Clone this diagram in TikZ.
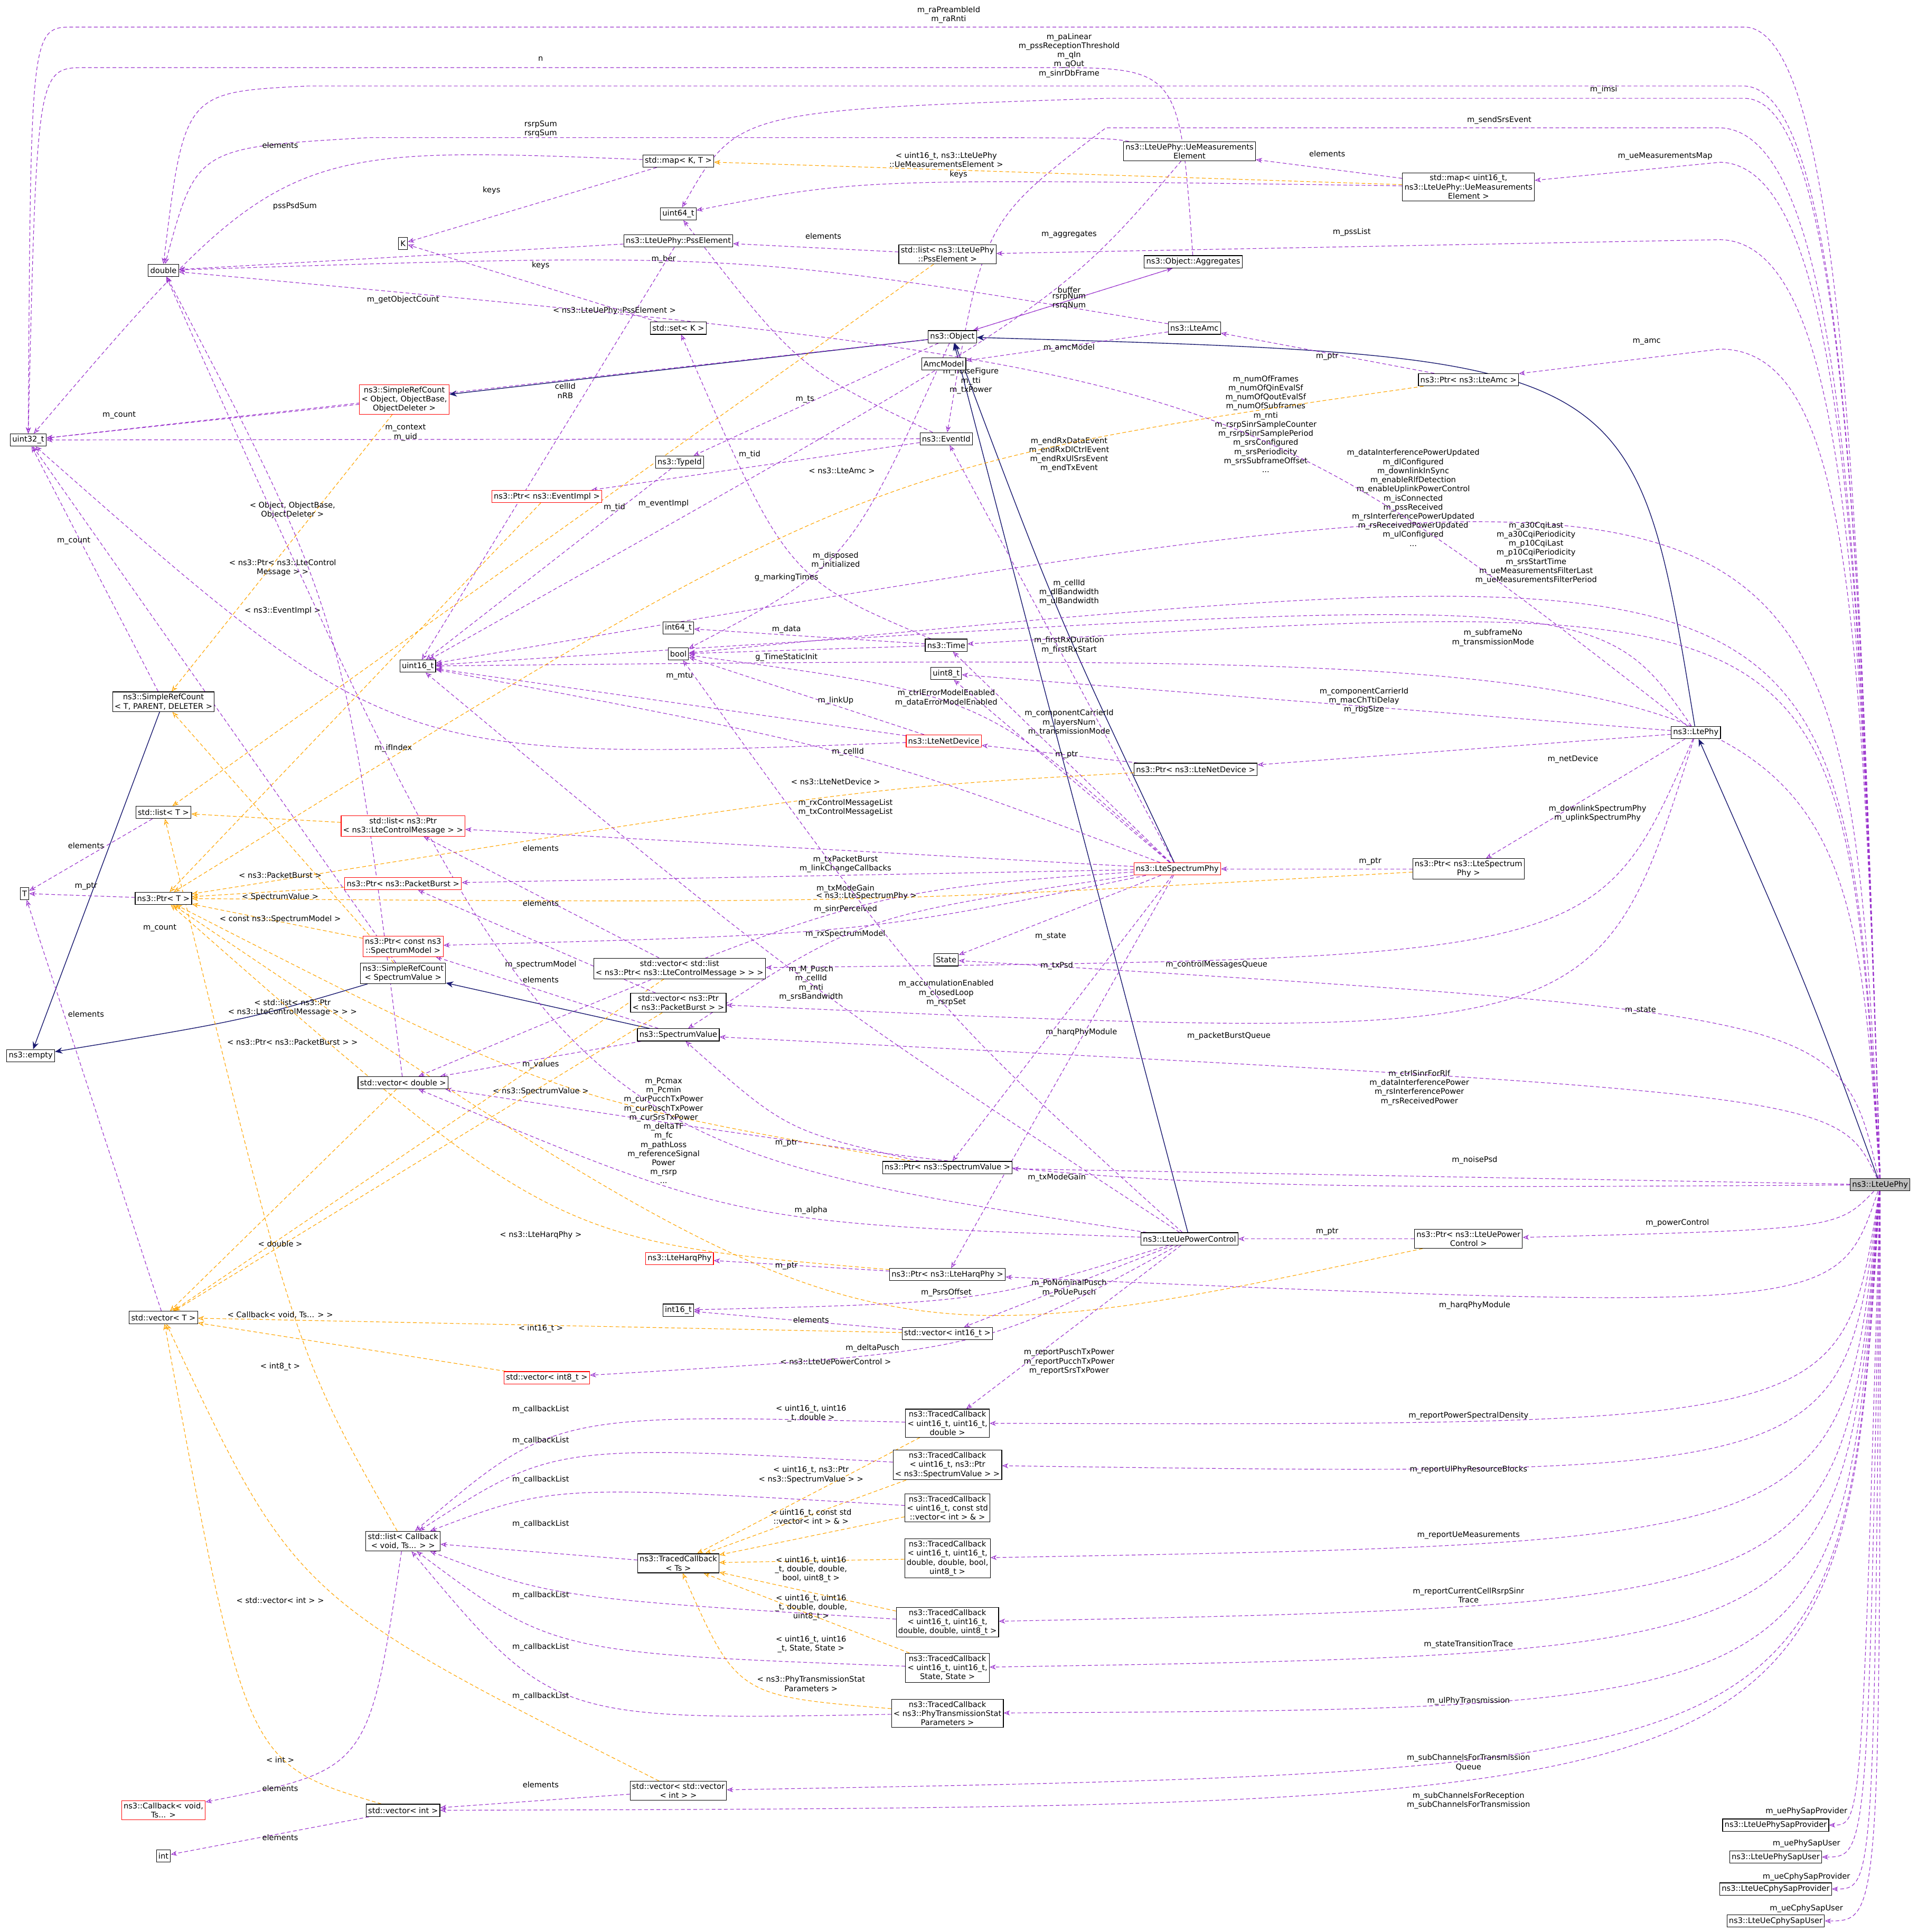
\documentclass[tikz,border=0pt]{standalone}
\usepackage{fontspec}
\setmainfont{DejaVu Sans}
\usetikzlibrary{arrows.meta}
\definecolor{pur}{HTML}{9A32CD}
\definecolor{org}{HTML}{FFA500}
\definecolor{mid}{HTML}{191970}
\pgfdeclarelayer{back}
\pgfdeclarelayer{bg}
\pgfsetlayers{back,bg,main}
\tikzset{
 box/.style={draw=black,fill=white,font=\fontsize{6.3}{7.4}\selectfont,inner sep=1.6pt,align=center,minimum height=10pt,line width=0.5pt},
 rbox/.style={box,draw=red},
 gbox/.style={box,fill=black!25},
 lbl/.style={font=\fontsize{6.3}{7.4}\selectfont,align=center,inner sep=0pt},
 use/.style={draw=pur,dashed,dash pattern=on 3pt off 2pt,line width=0.5pt,-{Stealth[open,length=5pt,width=4pt]}},
 tmpl/.style={draw=org,dashed,dash pattern=on 3pt off 2pt,line width=0.5pt,-{Stealth[open,length=5pt,width=4pt]}},
 inh/.style={draw=mid,line width=0.6pt,-{Stealth[length=6pt,width=5pt]}}
}
\begin{document}
\begin{tikzpicture}[x=1pt,y=-1pt]
\useasboundingbox (0,0) rectangle (1568,1572);
\begin{pgfonlayer}{back}
\fill[white] (0,0) rectangle (1568,1572);
\end{pgfonlayer}
% nodes
\node[gbox] (uephy) at (1530,964) {ns3::LteUePhy};
\node[box] (ltephy) at (1380,596) {ns3::LtePhy};
\node[box] (object) at (775,274) {ns3::Object};
\node[box] (amc) at (972,267) {ns3::LteAmc};
\node[box] (pamc) at (1195,309) {ns3::Ptr< ns3::LteAmc >};
\node[box] (amcmodel) at (768,296) {AmcModel};
\node[box] (aggr) at (971,213) {ns3::Object::Aggregates};
\node[box] (umel) at (968,123) {ns3::LteUePhy::UeMeasurements\\Element};
\node[box] (umap) at (1195,152) {std::map< uint16\_t,\\ ns3::LteUePhy::UeMeasurements\\Element >};
\node[box] (mapkt) at (552,131) {std::map< K, T >};
\node[box] (u64) at (552,174) {uint64\_t};
\node[box] (pss) at (552,196) {ns3::LteUePhy::PssElement};
\node[box] (psslist) at (771,207) {std::list< ns3::LteUePhy\\::PssElement >};
\node[box] (K) at (328,198) {K};
\node[box] (double) at (133,220) {double};
\node[box] (setk) at (552,267) {std::set< K >};
\node[box] (u32) at (23,358) {uint32\_t};
\node[rbox] (srcobj) at (329,325) {ns3::SimpleRefCount\\< Object, ObjectBase,\\ ObjectDeleter >};
\node[box] (eventid) at (770,357) {ns3::EventId};
\node[box] (typeid) at (553,376) {ns3::TypeId};
\node[rbox] (pevent) at (445,404) {ns3::Ptr< ns3::EventImpl >};
\node[box] (u16) at (340,542) {uint16\_t};
\node[box] (i64) at (552,511) {int64\_t};
\node[box] (bool) at (552,532) {bool};
\node[box] (time) at (770,525) {ns3::Time};
\node[box] (u8) at (770,548) {uint8\_t};
\node[box] (srctpd) at (133,571) {ns3::SimpleRefCount\\< T, PARENT, DELETER >};
\node[box] (listt) at (133,661) {std::list< T >};
\node[rbox] (netdev) at (768,603) {ns3::LteNetDevice};
\node[box] (pnetdev) at (973,626) {ns3::Ptr< ns3::LteNetDevice >};
\node[rbox] (listctrl) at (328,672) {std::list< ns3::Ptr\\< ns3::LteControlMessage > >};
\node[rbox] (specphy) at (958,707) {ns3::LteSpectrumPhy};
\node[box] (pspecphy) at (1195,707) {ns3::Ptr< ns3::LteSpectrum\\Phy >};
\node[box] (T) at (20,727) {T};
\node[box] (ptrt) at (133,731) {ns3::Ptr< T >};
\node[rbox] (pburst) at (328,719) {ns3::Ptr< ns3::PacketBurst >};
\node[rbox] (pmodel) at (328,770) {ns3::Ptr< const ns3\\::SpectrumModel >};
\node[box] (state) at (770,781) {State};
\node[box] (vlistctrl) at (553,788) {std::vector< std::list\\< ns3::Ptr< ns3::LteControlMessage > > >};
\node[box] (srcsv) at (328,792) {ns3::SimpleRefCount\\< SpectrumValue >};
\node[box] (vburst) at (552,816) {std::vector< ns3::Ptr\\< ns3::PacketBurst > >};
\node[box] (specval) at (552,842) {ns3::SpectrumValue};
\node[box] (empty) at (25,859) {ns3::empty};
\node[box] (vdouble) at (328,881) {std::vector< double >};
\node[box] (pspecval) at (771,950) {ns3::Ptr< ns3::SpectrumValue >};
\node[box] (pc) at (968,1008) {ns3::LteUePowerControl};
\node[box] (ppc) at (1195,1008) {ns3::Ptr< ns3::LteUePower\\Control >};
\node[rbox] (harq) at (553,1024) {ns3::LteHarqPhy};
\node[box] (pharq) at (771,1037) {ns3::Ptr< ns3::LteHarqPhy >};
\node[box] (vect) at (133,1072) {std::vector< T >};
\node[box] (i16) at (552,1066) {int16\_t};
\node[box] (vi16) at (771,1085) {std::vector< int16\_t >};
\node[rbox] (vi8) at (445,1121) {std::vector< int8\_t >};
\node[box] (tc1) at (771,1158) {ns3::TracedCallback\\< uint16\_t, uint16\_t,\\ double >};
\node[box] (tc2) at (771,1192) {ns3::TracedCallback\\< uint16\_t, ns3::Ptr\\< ns3::SpectrumValue > >};
\node[box] (tc3) at (771,1227) {ns3::TracedCallback\\< uint16\_t, const std\\::vector< int > \& >};
\node[box] (lcb) at (328,1254) {std::list< Callback\\< void, Ts... > >};
\node[box] (tcts) at (552,1272) {ns3::TracedCallback\\< Ts >};
\node[box] (tc4) at (771,1268) {ns3::TracedCallback\\< uint16\_t, uint16\_t,\\ double, double, bool,\\ uint8\_t >};
\node[box] (tc5) at (771,1320) {ns3::TracedCallback\\< uint16\_t, uint16\_t,\\ double, double, uint8\_t >};
\node[box] (tc6) at (771,1357) {ns3::TracedCallback\\< uint16\_t, uint16\_t,\\ State, State >};
\node[box] (tc7) at (771,1394) {ns3::TracedCallback\\< ns3::PhyTransmissionStat\\Parameters >};
\node[box] (vvint) at (552,1457) {std::vector< std::vector\\< int > >};
\node[box] (vint) at (328,1473) {std::vector< int >};
\node[rbox] (cb) at (133,1473) {ns3::Callback< void,\\ Ts... >};
\node[box] (int) at (133,1510) {int};
\node[box] (sap1) at (1445,1485) {ns3::LteUePhySapProvider};
\node[box] (sap2) at (1445,1511) {ns3::LteUePhySapUser};
\node[box] (sap3) at (1445,1537) {ns3::LteUeCphySapProvider};
\node[box] (sap4) at (1445,1563) {ns3::LteUeCphySapUser};

\begin{pgfonlayer}{bg}
% inheritance
\draw[inh] (uephy) .. controls (1470,800) .. (ltephy);
\draw[inh] (ltephy) .. controls (1330,290) .. (object);
\draw[inh] (specphy) .. controls (860,500) .. (object);
\draw[inh] (pc) .. controls (860,600) .. (object);
\draw[inh] (object) -- (srcobj);
\draw[inh] (srctpd) -- (empty);
\draw[inh] (srcsv) .. controls (200,830) .. (empty);
\draw[inh] (specval) -- (srcsv);

% LteUePhy members (top fan)
\draw[use] (uephy.north) .. controls (1515,500) and (1505,25) .. (1420,22) -- (60,22) .. controls (25,22) .. (u32.north);
\node[lbl] at (772,12) {m\_raPreambleId\\m\_raRnti};
\draw[use] (uephy.north) .. controls (1515,500) and (1505,75) .. (1420,70) -- (250,70) .. controls (150,75) .. (double.north);
\node[lbl] at (870,45) {m\_paLinear\\m\_pssReceptionThreshold\\m\_qIn\\m\_qOut\\m\_sinrDbFrame};
\draw[use] (uephy.north) .. controls (1515,500) and (1505,82) .. (1420,80) -- (900,80) .. controls (600,90) .. (u64);
\node[lbl] at (1305,73) {m\_imsi};
\draw[use] (uephy.north) .. controls (1515,500) and (1505,108) .. (1400,104) -- (900,104) .. controls (800,180) .. (eventid);
\node[lbl] at (1220,98) {m\_sendSrsEvent};
\draw[use] (uephy.north) .. controls (1515,500) and (1505,135) .. (1400,132) -- (umap);
\node[lbl] at (1355,127) {m\_ueMeasurementsMap};
\draw[use] (uephy.north) .. controls (1515,500) and (1505,198) .. (1400,195) -- (psslist);
\node[lbl] at (1100,189) {m\_pssList};
\draw[use] (uephy.north) .. controls (1515,500) and (1505,285) .. (1400,284) -- (pamc);
\node[lbl] at (1340,278) {m\_amc};
\draw[use] (uephy) .. controls (1500,345) .. (u16);
\node[lbl] at (1030,345) {m\_numOfFrames\\m\_numOfQinEvalSf\\m\_numOfQoutEvalSf\\m\_numOfSubframes\\m\_rnti\\m\_rsrpSinrSampleCounter\\m\_rsrpSinrSamplePeriod\\m\_srsConfigured\\m\_srsPeriodicity\\m\_srsSubframeOffset\\...};
\draw[use] (uephy) .. controls (1500,440) .. (bool);
\node[lbl] at (1150,405) {m\_dataInterferencePowerUpdated\\m\_dlConfigured\\m\_downlinkInSync\\m\_enableRlfDetection\\m\_enableUplinkPowerControl\\m\_isConnected\\m\_pssReceived\\m\_rsInterferencePowerUpdated\\m\_rsReceivedPowerUpdated\\m\_ulConfigured\\...};
\draw[use] (uephy) .. controls (1500,480) .. (time);
\node[lbl] at (1250,450) {m\_a30CqiLast\\m\_a30CqiPeriodicity\\m\_p10CqiLast\\m\_p10CqiPeriodicity\\m\_srsStartTime\\m\_ueMeasurementsFilterLast\\m\_ueMeasurementsFilterPeriod};
\draw[use] (uephy) .. controls (1500,530) .. (u16);
\node[lbl] at (1215,519) {m\_subframeNo\\m\_transmissionMode};
\draw[use] (uephy) .. controls (1498,825) .. (state);
\node[lbl] at (1335,822) {m\_state};
\draw[use] (uephy) .. controls (1495,890) .. (specval);
\node[lbl] at (1155,885) {m\_ctrlSinrForRlf\\m\_dataInterferencePower\\m\_rsInterferencePower\\m\_rsReceivedPower};
\draw[use] (uephy) -- (pspecval);
\node[lbl] at (1200,944) {m\_noisePsd};
\draw[use] (uephy) .. controls (900,968) .. (vdouble);
\node[lbl] at (860,958) {m\_txModeGain};
\draw[use] (uephy) .. controls (1495,1000) .. (ppc);
\node[lbl] at (1365,995) {m\_powerControl};
\draw[use] (uephy) .. controls (1495,1068) .. (pharq);
\node[lbl] at (1200,1062) {m\_harqPhyModule};
\draw[use] (uephy) .. controls (1500,1160) .. (tc1);
\node[lbl] at (1195,1152) {m\_reportPowerSpectralDensity};
\draw[use] (uephy) .. controls (1500,1202) .. (tc2);
\node[lbl] at (1195,1196) {m\_reportUlPhyResourceBlocks};
\draw[use] (uephy) .. controls (1500,1255) .. (tc4);
\node[lbl] at (1195,1249) {m\_reportUeMeasurements};
\draw[use] (uephy) .. controls (1500,1305) .. (tc5);
\node[lbl] at (1195,1298) {m\_reportCurrentCellRsrpSinr\\Trace};
\draw[use] (uephy) .. controls (1500,1345) .. (tc6);
\node[lbl] at (1195,1338) {m\_stateTransitionTrace};
\draw[use] (uephy) .. controls (1500,1390) .. (tc7);
\node[lbl] at (1195,1384) {m\_ulPhyTransmission};
\draw[use] (uephy) .. controls (1500,1440) .. (vvint);
\node[lbl] at (1195,1434) {m\_subChannelsForTransmission\\Queue};
\draw[use] (uephy) .. controls (1500,1470) .. (vint);
\node[lbl] at (1195,1465) {m\_subChannelsForReception\\m\_subChannelsForTransmission};
\draw[use] (uephy) .. controls (1515,1485) .. (sap1);
\node[lbl] at (1470,1474) {m\_uePhySapProvider};
\draw[use] (uephy) .. controls (1520,1511) .. (sap2);
\node[lbl] at (1470,1500) {m\_uePhySapUser};
\draw[use] (uephy) .. controls (1525,1537) .. (sap3);
\node[lbl] at (1470,1527) {m\_ueCphySapProvider};
\draw[use] (uephy) .. controls (1530,1563) .. (sap4);
\node[lbl] at (1470,1553) {m\_ueCphySapUser};

% LtePhy members
\draw[use] (ltephy) .. controls (1000,300) .. (double);
\node[lbl] at (790,310) {m\_noiseFigure\\m\_tti\\m\_txPower};
\draw[use] (ltephy) .. controls (1300,480) .. (u16);
\node[lbl] at (870,482) {m\_cellId\\m\_dlBandwidth\\m\_ulBandwidth};
\draw[use] (ltephy) -- (u8);
\node[lbl] at (1110,570) {m\_componentCarrierId\\m\_macChTtiDelay\\m\_rbgSize};
\draw[use] (ltephy) -- (pnetdev);
\node[lbl] at (1280,618) {m\_netDevice};
\draw[use] (ltephy) -- (pspecphy);
\node[lbl] at (1300,662) {m\_downlinkSpectrumPhy\\m\_uplinkSpectrumPhy};
\draw[use] (ltephy) .. controls (1300,780) .. (vlistctrl);
\node[lbl] at (990,785) {m\_controlMessagesQueue};
\draw[use] (ltephy) .. controls (1300,850) .. (vburst);
\node[lbl] at (1000,843) {m\_packetBurstQueue};

% Ptr edges
\draw[use] (pamc) -- (amc);
\node[lbl] at (1080,290) {m\_ptr};
\draw[use] (pspecphy) -- (specphy);
\node[lbl] at (1115,701) {m\_ptr};
\draw[use] (pnetdev) -- (netdev);
\node[lbl] at (868,614) {m\_ptr};
\draw[use] (ppc) -- (pc);
\node[lbl] at (1080,1002) {m\_ptr};
\draw[use] (pharq) -- (harq);
\node[lbl] at (640,1030) {m\_ptr};
\draw[use] (pspecval) .. controls (640,920) .. (specval);
\node[lbl] at (640,930) {m\_ptr};

% LteSpectrumPhy members
\draw[use] (specphy) -- (listctrl);
\node[lbl] at (688,657) {m\_rxControlMessageList\\m\_txControlMessageList};
\draw[use] (specphy) -- (pburst);
\node[lbl] at (688,703) {m\_txPacketBurst\\m\_linkChangeCallbacks};
\draw[use] (specphy) .. controls (700,725) .. (vdouble);
\node[lbl] at (688,723) {m\_txModeGain};
\draw[use] (specphy) .. controls (700,760) .. (pmodel);
\node[lbl] at (688,760) {m\_rxSpectrumModel};
\draw[use] (specphy) .. controls (700,745) .. (specval);
\node[lbl] at (688,740) {m\_sinrPerceived};
\draw[use] (specphy) -- (state);
\node[lbl] at (855,762) {m\_state};
\draw[use] (specphy) -- (pspecval);
\node[lbl] at (860,786) {m\_txPsd};
\draw[use] (specphy) -- (pharq);
\node[lbl] at (880,840) {m\_harqPhyModule};
\draw[use] (specphy) .. controls (700,610) .. (u16);
\node[lbl] at (690,612) {m\_cellId};
\draw[use] (specphy) -- (u8);
\node[lbl] at (870,588) {m\_componentCarrierId\\m\_layersNum\\m\_transmissionMode};
\draw[use] (specphy) -- (time);
\node[lbl] at (870,525) {m\_firstRxDuration\\m\_firstRxStart};
\draw[use] (specphy) .. controls (800,565) .. (bool);
\node[lbl] at (770,568) {m\_ctrlErrorModelEnabled\\m\_dataErrorModelEnabled};
\draw[use] (specphy) -- (eventid);
\node[lbl] at (870,370) {m\_endRxDataEvent\\m\_endRxDlCtrlEvent\\m\_endRxUlSrsEvent\\m\_endTxEvent};

% LteNetDevice
\draw[use] (netdev) -- (u16);
\node[lbl] at (553,550) {m\_mtu};
\draw[use] (netdev) -- (bool);
\node[lbl] at (680,570) {m\_linkUp};
\draw[use] (netdev) .. controls (320,620) .. (u32);
\node[lbl] at (320,609) {m\_ifIndex};

% Object etc
\draw[use] (object) -- (typeid);
\node[lbl] at (610,370) {m\_tid};
\draw[use] (object) .. controls (690,460) .. (bool);
\node[lbl] at (680,456) {m\_disposed\\m\_initialized};
\draw[use] (object) -- (u32);
\node[lbl] at (328,244) {m\_getObjectCount};
\draw[use] (object) -- (aggr);
\node[lbl] at (870,191) {m\_aggregates};
\draw[use] (aggr) -- (object);
\node[lbl] at (870,236) {buffer};
\draw[use] (aggr) .. controls (960,55) .. (850,55) -- (70,55) .. controls (30,55) .. (u32.north);
\node[lbl] at (440,48) {n};
\draw[use] (typeid) -- (u16);
\node[lbl] at (500,413) {m\_tid};
\draw[use] (eventid) -- (u32);
\node[lbl] at (330,352) {m\_context\\m\_uid};
\draw[use] (eventid) -- (pevent);
\node[lbl] at (540,410) {m\_eventImpl};
\draw[use] (eventid) .. controls (650,300) .. (u64);
\node[lbl] at (655,325) {m\_ts};
\draw[use] (time) -- (i64);
\node[lbl] at (640,512) {m\_data};
\draw[use] (time) .. controls (640,470) .. (setk);
\node[lbl] at (640,470) {g\_markingTimes};
\draw[use] (time) -- (bool);
\node[lbl] at (640,535) {g\_TimeStaticInit};
\draw[use] (amc) -- (amcmodel);
\node[lbl] at (870,283) {m\_amcModel};
\draw[use] (amc) .. controls (600,205) .. (double);
\node[lbl] at (540,211) {m\_ber};
\draw[use] (umel) .. controls (860,250) .. (u16);
\node[lbl] at (870,245) {rsrpNum\\rsrqNum};
\draw[use] (umel) .. controls (900,112) .. (700,112) -- (300,112) .. controls (160,120) .. (double);
\node[lbl] at (440,105) {rsrpSum\\rsrqSum};
\draw[use] (umap) -- (umel);
\node[lbl] at (1080,125) {elements};
\draw[use] (umap) .. controls (700,145) .. (u64);
\node[lbl] at (780,142) {keys};
\draw[tmpl] (umap) -- (mapkt);
\node[lbl] at (770,130) {< uint16\_t, ns3::LteUePhy\\::UeMeasurementsElement >};
\draw[use] (mapkt) .. controls (228,118) .. (u32);
\node[lbl] at (228,118) {elements};
\draw[use] (mapkt) -- (K);
\node[lbl] at (400,155) {keys};
\draw[use] (pss) -- (double);
\node[lbl] at (240,168) {pssPsdSum};
\draw[use] (pss) .. controls (470,330) .. (u16);
\node[lbl] at (460,318) {cellId\\nRB};
\draw[use] (psslist) -- (pss);
\node[lbl] at (670,192) {elements};
\draw[tmpl] (psslist) -- (listt);
\node[lbl] at (500,253) {< ns3::LteUePhy::PssElement >};
\draw[use] (setk) -- (K);
\node[lbl] at (440,216) {keys};
\draw[use] (srcobj) -- (u32);
\node[lbl] at (97,338) {m\_count};
\draw[tmpl] (srcobj) -- (srctpd);
\node[lbl] at (238,415) {< Object, ObjectBase,\\ ObjectDeleter >};
\draw[use] (srctpd) -- (u32);
\node[lbl] at (60,440) {m\_count};
\draw[use] (listt) -- (T);
\node[lbl] at (70,688) {elements};
\draw[use] (ptrt) -- (T);
\node[lbl] at (70,721) {m\_ptr};
\draw[use] (vect) -- (T);
\node[lbl] at (70,825) {elements};

% templates into Ptr<T>
\draw[tmpl] (pevent) -- (ptrt);
\node[lbl] at (230,497) {< ns3::EventImpl >};
\draw[tmpl] (pamc) .. controls (700,380) .. (ptrt);
\node[lbl] at (685,383) {< ns3::LteAmc >};
\draw[tmpl] (pnetdev) .. controls (700,641) .. (ptrt);
\node[lbl] at (680,636) {< ns3::LteNetDevice >};
\draw[tmpl] (listctrl) -- (listt);
\node[lbl] at (230,462) {< ns3::Ptr< ns3::LteControl\\Message > >};
\draw[tmpl] (pburst) -- (ptrt);
\node[lbl] at (228,712) {< ns3::PacketBurst >};
\draw[tmpl] (pmodel) -- (ptrt);
\node[lbl] at (228,748) {< const ns3::SpectrumModel >};
\draw[tmpl] (pspecphy) .. controls (700,735) .. (ptrt);
\node[lbl] at (705,729) {< ns3::LteSpectrumPhy >};
\draw[use] (srcsv) -- (u32);
\node[lbl] at (130,755) {m\_count};
\draw[tmpl] (srcsv) -- (srctpd);
\node[lbl] at (228,730) {< SpectrumValue >};
\draw[tmpl] (vlistctrl) -- (vect);
\node[lbl] at (238,820) {< std::list< ns3::Ptr\\< ns3::LteControlMessage > > >};
\draw[use] (vlistctrl) -- (listctrl);
\node[lbl] at (440,690) {elements};
\draw[use] (vburst) -- (pburst);
\node[lbl] at (440,735) {elements};
\draw[tmpl] (vburst) -- (vect);
\node[lbl] at (238,848) {< ns3::Ptr< ns3::PacketBurst > >};
\draw[use] (specval) -- (pmodel);
\node[lbl] at (440,785) {m\_spectrumModel};
\draw[use] (specval) -- (vdouble);
\node[lbl] at (440,866) {m\_values};
\draw[use] (vdouble) .. controls (280,500) .. (double);
\node[lbl] at (440,797) {elements};
\draw[tmpl] (vdouble) -- (vect);
\node[lbl] at (228,1012) {< double >};
\draw[tmpl] (pspecval) .. controls (450,893) .. (ptrt);
\node[lbl] at (440,888) {< ns3::SpectrumValue >};

% power control
\draw[use] (pc) .. controls (450,930) .. (double);
\node[lbl] at (540,920) {m\_Pcmax\\m\_Pcmin\\m\_curPucchTxPower\\m\_curPuschTxPower\\m\_curSrsTxPower\\m\_deltaTF\\m\_fc\\m\_pathLoss\\m\_referenceSignal\\Power\\m\_rsrp\\...};
\draw[use] (pc) .. controls (600,995) .. (vdouble);
\node[lbl] at (660,985) {m\_alpha};
\draw[use] (pc) .. controls (650,800) .. (u16);
\node[lbl] at (660,800) {m\_M\_Pusch\\m\_cellId\\m\_rnti\\m\_srsBandwidth};
\draw[use] (pc) .. controls (760,820) .. (bool);
\node[lbl] at (770,808) {m\_accumulationEnabled\\m\_closedLoop\\m\_rsrpSet};
\draw[use] (pc) .. controls (800,1060) .. (i16);
\node[lbl] at (770,1052) {m\_PsrsOffset};
\draw[use] (pc) -- (vi16);
\node[lbl] at (870,1048) {m\_PoNominalPusch\\m\_PoUePusch};
\draw[use] (pc) .. controls (800,1100) .. (vi8);
\node[lbl] at (710,1097) {m\_deltaPusch};
\draw[use] (pc) -- (tc1);
\node[lbl] at (870,1108) {m\_reportPuschTxPower\\m\_reportPucchTxPower\\m\_reportSrsTxPower};
\draw[tmpl] (ppc) .. controls (700,1113) .. (ptrt);
\node[lbl] at (680,1108) {< ns3::LteUePowerControl >};
\draw[tmpl] (pharq) .. controls (450,1010) .. (ptrt);
\node[lbl] at (440,1005) {< ns3::LteHarqPhy >};
\draw[use] (vi16) -- (i16);
\node[lbl] at (660,1074) {elements};
\draw[tmpl] (vi16) -- (vect);
\node[lbl] at (440,1081) {< int16\_t >};
\draw[tmpl] (vi8) -- (vect);
\node[lbl] at (228,1112) {< int8\_t >};

% traced callbacks
\draw[use] (tc1) .. controls (450,1150) .. (lcb);
\node[lbl] at (440,1147) {m\_callbackList};
\draw[tmpl] (tc1) -- (tcts);
\node[lbl] at (660,1150) {< uint16\_t, uint16\\\_t, double >};
\draw[use] (tc2) .. controls (450,1175) .. (lcb);
\node[lbl] at (440,1172) {m\_callbackList};
\draw[tmpl] (tc2) -- (tcts);
\node[lbl] at (660,1200) {< uint16\_t, ns3::Ptr\\< ns3::SpectrumValue > >};
\draw[use] (tc3) .. controls (450,1208) .. (lcb);
\node[lbl] at (440,1204) {m\_callbackList};
\draw[tmpl] (tc3) -- (tcts);
\node[lbl] at (660,1234) {< uint16\_t, const std\\::vector< int > \& >};
\draw[use] (tcts) -- (lcb);
\node[lbl] at (440,1240) {m\_callbackList};
\draw[tmpl] (tc4) -- (tcts);
\node[lbl] at (660,1277) {< uint16\_t, uint16\\\_t, double, double,\\ bool, uint8\_t >};
\draw[use] (tc5) .. controls (450,1300) .. (lcb);
\node[lbl] at (440,1298) {m\_callbackList};
\draw[tmpl] (tc5) -- (tcts);
\node[lbl] at (660,1308) {< uint16\_t, uint16\\\_t, double, double,\\ uint8\_t >};
\draw[use] (tc6) .. controls (450,1345) .. (lcb);
\node[lbl] at (440,1340) {m\_callbackList};
\draw[tmpl] (tc6) -- (tcts);
\node[lbl] at (660,1338) {< uint16\_t, uint16\\\_t, State, State >};
\draw[use] (tc7) .. controls (450,1400) .. (lcb);
\node[lbl] at (440,1380) {m\_callbackList};
\draw[tmpl] (tc7) .. controls (600,1380) .. (tcts);
\node[lbl] at (660,1370) {< ns3::PhyTransmissionStat\\Parameters >};
\draw[tmpl] (lcb) .. controls (240,1100) .. (listt);
\node[lbl] at (228,1070) {< Callback< void, Ts... > >};
\draw[use] (lcb) .. controls (300,1440) .. (cb);
\node[lbl] at (228,1455) {elements};
\draw[use] (vvint) -- (vint);
\node[lbl] at (440,1452) {elements};
\draw[tmpl] (vvint) .. controls (240,1300) .. (vect);
\node[lbl] at (228,1302) {< std::vector< int > >};
\draw[tmpl] (vint) .. controls (200,1435) .. (vect);
\node[lbl] at (228,1432) {< int >};
\draw[use] (vint) -- (int);
\node[lbl] at (228,1495) {elements};
\end{pgfonlayer}
\end{tikzpicture}
\end{document}
